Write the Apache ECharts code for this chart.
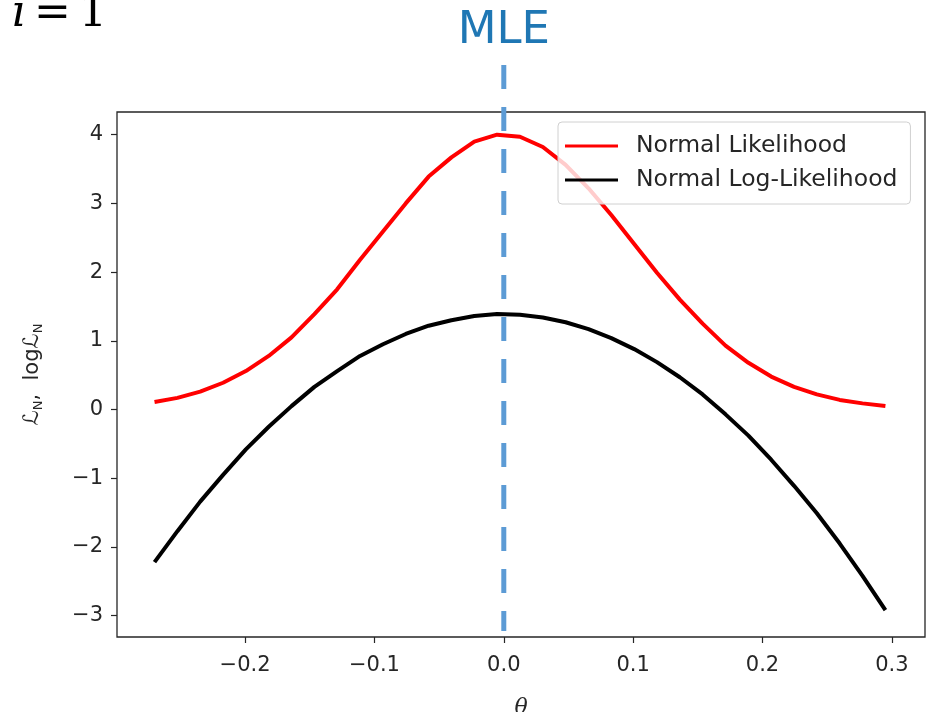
<!DOCTYPE html>
<html>
<head>
<meta charset="utf-8">
<script src="https://cdn.jsdelivr.net/npm/echarts@6/dist/echarts.min.js"></script>
<style>
  html, body { margin: 0; padding: 0; background: #fff; }
  #chart { width: 938px; height: 712px; }
</style>
</head>
<body>
<div id="chart"></div>
<script>
// theta grid and the two curves
const theta = [
  -0.2700, -0.2523, -0.2347, -0.2170, -0.1994, -0.1817, -0.1641, -0.1464, -0.1288,
  -0.1111, -0.0934, -0.0758, -0.0581, -0.0405, -0.0228, -0.0052, 0.0125, 0.0302,
  0.0478, 0.0655, 0.0831, 0.1008, 0.1184, 0.1361, 0.1537, 0.1714, 0.1891,
  0.2067, 0.2244, 0.2420, 0.2597, 0.2773, 0.2950
];
const likelihood = [
  0.11, 0.17, 0.26, 0.39, 0.56, 0.78, 1.05, 1.39, 1.75,
  2.18, 2.59, 3.00, 3.39, 3.67, 3.90, 4.00, 3.97, 3.82,
  3.56, 3.22, 2.83, 2.41, 1.99, 1.60, 1.25, 0.93, 0.68,
  0.48, 0.33, 0.22, 0.14, 0.09, 0.05
];
const logLikelihood = [
  -2.22, -1.77, -1.34, -0.95, -0.58, -0.25, 0.05, 0.33, 0.56,
  0.78, 0.95, 1.10, 1.22, 1.30, 1.36, 1.39, 1.38, 1.34,
  1.27, 1.17, 1.04, 0.88, 0.69, 0.47, 0.22, -0.07, -0.38,
  -0.73, -1.11, -1.51, -1.95, -2.42, -2.92
];
const xTicks = [-0.2, -0.1, 0.0, 0.1, 0.2, 0.3];
const yTicks = [-3, -2, -1, 0, 1, 2, 3, 4];
const mleTheta = 0.0;

const FONT = "DejaVu Sans";
const TXT = "#262626";
const minus = (s) => s.replace("-", "\u2212");

const chart = echarts.init(document.getElementById("chart"), null, { renderer: "canvas" });

const xRange = { min: -0.299, max: 0.3256 };

chart.setOption({
  animation: false,
  backgroundColor: "#fff",
  textStyle: { fontFamily: FONT },
  graphic: [
    {
      // cropped LaTeX title left over from the original figure
      type: "text",
      left: 12,
      top: -7,
      style: {
        text: "{it|i}{n|=}{n1|1}",
        rich: {
          it: { fontFamily: "DejaVu Serif", fontStyle: "italic", fontSize: 44, fill: "#000", padding: [0, 8, 0, 0] },
          n: { fontFamily: "DejaVu Serif", fontSize: 44, fill: "#000", padding: [0, 8, 0, 0] },
          n1: { fontFamily: "DejaVu Serif", fontSize: 44, fill: "#000" }
        }
      }
    }
  ],
  legend: {
    orient: "vertical",
    left: 558,
    top: 122,
    padding: [12, 13, 12, 7],
    itemGap: 10,
    itemWidth: 53,
    itemHeight: 3,
    icon: "rect",
    backgroundColor: "rgba(255,255,255,0.8)",
    borderColor: "#d0d0d0",
    borderWidth: 1,
    borderRadius: 4,
    textStyle: { fontFamily: FONT, fontSize: 23.5, color: TXT, padding: [0, 0, 0, 13] },
    data: ["Normal Likelihood", "Normal Log-Likelihood"]
  },
  grid: [
    { left: 117, right: 13, top: 112, bottom: 75, outerBoundsMode: "none",
      show: true, borderColor: TXT, borderWidth: 1.3 },
    { left: 117, right: 13, top: 65, bottom: 81, outerBoundsMode: "none" }
  ],
  xAxis: [
    {
      type: "value",
      gridIndex: 0,
      min: xRange.min,
      max: xRange.max,
      name: "\u03b8",
      nameLocation: "middle",
      nameGap: 60,
      nameTextStyle: { fontFamily: "DejaVu Serif", fontStyle: "italic", fontSize: 22, color: TXT },
      axisLine: { show: false, onZero: false },
      splitLine: { show: false },
      axisTick: { show: true, inside: false, length: 6, lineStyle: { color: TXT, width: 1.2 }, customValues: xTicks },
      axisLabel: {
        customValues: xTicks,
        margin: 18,
        fontSize: 21,
        color: TXT,
        fontFamily: FONT,
        formatter: (v) => minus(v.toFixed(1))
      }
    },
    {
      type: "value",
      gridIndex: 1,
      min: xRange.min,
      max: xRange.max,
      show: false
    }
  ],
  yAxis: [
    {
      type: "value",
      gridIndex: 0,
      min: -3.31,
      max: 4.33,
      name: "{s|\u2112}{sub|N}{s|,  log\u2112}{sub|N}",
      nameLocation: "middle",
      nameRotate: 90,
      nameGap: 72,
      nameTextStyle: {
        rich: {
          s: { fontFamily: FONT, fontSize: 21, color: TXT },
          sub: { fontFamily: FONT, fontSize: 13, color: TXT, padding: [12, 0, 0, 0] }
        }
      },
      axisLine: { show: false, onZero: false },
      splitLine: { show: false },
      axisTick: { show: true, inside: false, length: 6, lineStyle: { color: TXT, width: 1.2 }, customValues: yTicks },
      axisLabel: {
        customValues: yTicks,
        margin: 14,
        fontSize: 21,
        color: TXT,
        fontFamily: FONT,
        formatter: (v) => minus(String(v))
      }
    },
    { type: "value", gridIndex: 1, min: 0, max: 1, show: false }
  ],
  series: [
    {
      name: "Normal Likelihood",
      type: "line",
      xAxisIndex: 0,
      yAxisIndex: 0,
      data: theta.map((t, i) => [t, likelihood[i]]),
      showSymbol: false,
      color: "#ff0000",
      lineStyle: { width: 4, color: "#ff0000" },
      z: 2
    },
    {
      name: "Normal Log-Likelihood",
      type: "line",
      xAxisIndex: 0,
      yAxisIndex: 0,
      data: theta.map((t, i) => [t, logLikelihood[i]]),
      showSymbol: false,
      color: "#000000",
      lineStyle: { width: 4, color: "#000000" },
      z: 2
    },
    {
      name: "MLE",
      type: "line",
      xAxisIndex: 1,
      yAxisIndex: 1,
      symbol: "circle",
      symbolSize: 0.1,
      showSymbol: true,
      silent: true,
      lineStyle: { width: 5, color: "#5c9bd5", type: [24, 18], cap: "butt" },
      itemStyle: { color: "#5c9bd5" },
      data: [
        {
          value: [mleTheta, 1],
          label: {
            show: true,
            position: "top",
            distance: 11,
            formatter: "MLE",
            fontFamily: FONT,
            fontSize: 45,
            color: "#1f77b4"
          }
        },
        { value: [mleTheta, 0] }
      ],
      z: 5
    }
  ]
});
</script>
</body>
</html>
